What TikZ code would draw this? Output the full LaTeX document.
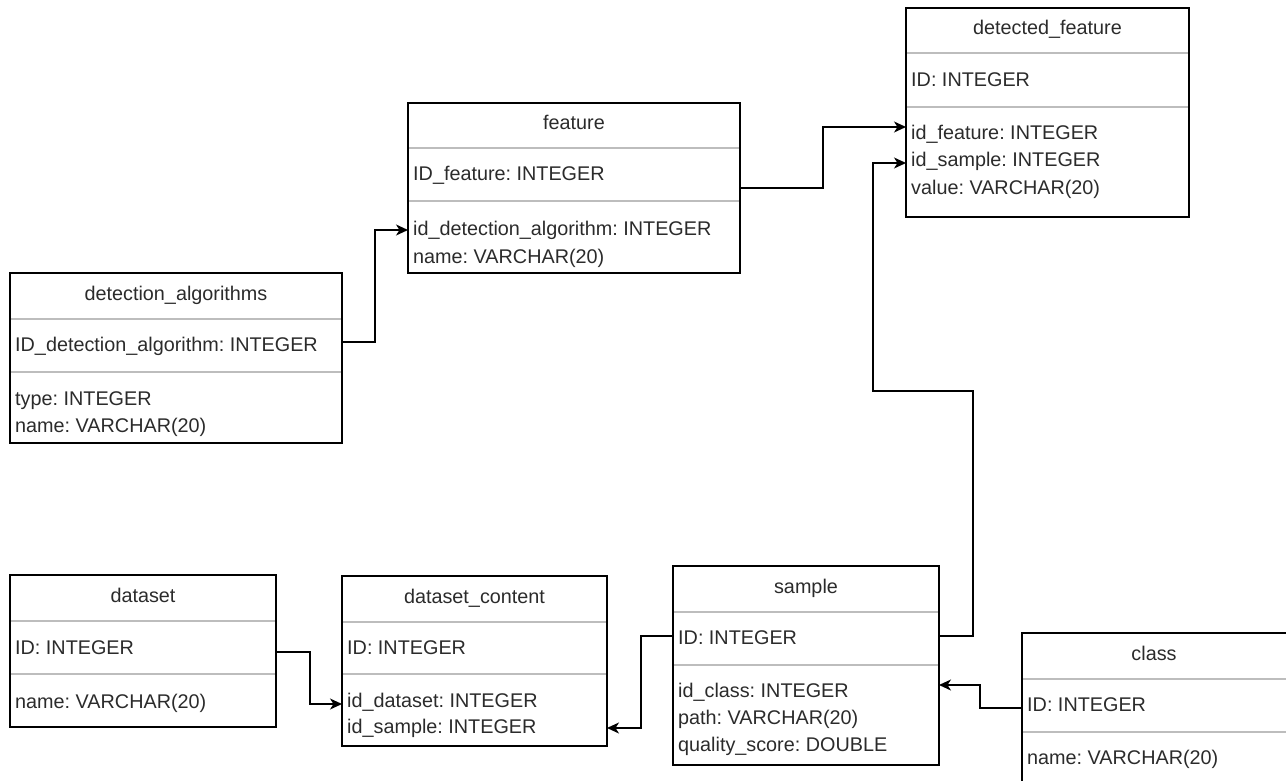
\documentclass[tikz,border=0pt]{standalone}
\usepackage{fontspec}
\setmainfont{Liberation Sans}
\usetikzlibrary{arrows.meta,calc}
\definecolor{txt}{HTML}{2B2B2B}
\definecolor{divc}{HTML}{BDBDBD}
\newcommand{\fs}{\fontsize{19.8}{24}\selectfont\frenchspacing}
\tikzset{
  tblshape/.style={inner sep=0pt, outer sep=0pt, anchor=north west},
  border/.style={draw=black, line width=1.3pt},
  divline/.style={draw=divc, line width=1.2pt},
  ttl/.style={font=\fs, text=txt, anchor=base, inner sep=0pt},
  fld/.style={font=\fs, text=txt, anchor=base west, inner sep=0pt},
  conn/.style={draw=black, line width=1.5pt, -{Stealth[length=12pt,width=11pt,inset=3.5pt]}},
}
% name, x, y, w, h, d1, d2
\newcommand{\ertable}[7]{%
  \node[tblshape, minimum width=#4pt, minimum height=#5pt] (#1) at (#2,#3) {};
  \draw[divline] ([yshift=-#6pt]#1.north west) -- ([yshift=-#6pt]#1.north east);
  \draw[divline] ([yshift=-#7pt]#1.north west) -- ([yshift=-#7pt]#1.north east);
  \draw[border] (#1.north west) rectangle (#1.south east);
}
\begin{document}
\begin{tikzpicture}[x=1pt,y=-1pt]
\useasboundingbox (0,0) rectangle (1286,781);
\clip (0,0) rectangle (1286,781);

% detected_feature
\ertable{df}{906}{8}{283}{209}{45}{99}
\node[ttl] (df-t) at ($(df.north)+(0,27)$) {detected\_feature};
\node[fld] (df-id) at ($(df.north west)+(5,79)$) {ID: INTEGER};
\node[fld] (df-a1) at ($(df.north west)+(5,132)$) {id\_feature: INTEGER};
\node[fld] (df-a2) at ($(df.north west)+(5,159)$) {id\_sample: INTEGER};
\node[fld] (df-a3) at ($(df.north west)+(5,186)$) {value: VARCHAR(20)};

% feature
\ertable{ft}{408}{103}{332}{170}{45}{98}
\node[ttl] (ft-t) at ($(ft.north)+(0,27)$) {feature};
\node[fld] (ft-id) at ($(ft.north west)+(5,78)$) {ID\_feature: INTEGER};
\node[fld] (ft-a1) at ($(ft.north west)+(5,133)$) {id\_detection\_algorithm: INTEGER};
\node[fld] (ft-a2) at ($(ft.north west)+(5,160)$) {name: VARCHAR(20)};

% detection_algorithms
\ertable{da}{10}{273}{332}{170}{46}{99}
\node[ttl] (da-t) at ($(da.north)+(0,27)$) {detection\_algorithms};
\node[fld] (da-id) at ($(da.north west)+(5,78)$) {ID\_detection\_algorithm: INTEGER};
\node[fld] (da-a1) at ($(da.north west)+(5,132)$) {type: INTEGER};
\node[fld] (da-a2) at ($(da.north west)+(5,159)$) {name: VARCHAR(20)};

% dataset
\ertable{ds}{10}{575}{266}{152}{46}{99}
\node[ttl] (ds-t) at ($(ds.north)+(0,27)$) {dataset};
\node[fld] (ds-id) at ($(ds.north west)+(5,79)$) {ID: INTEGER};
\node[fld] (ds-a1) at ($(ds.north west)+(5,133)$) {name: VARCHAR(20)};

% dataset_content
\ertable{dc}{342}{576}{265}{170}{46}{98}
\node[ttl] (dc-t) at ($(dc.north)+(0,27)$) {dataset\_content};
\node[fld] (dc-id) at ($(dc.north west)+(5,78)$) {ID: INTEGER};
\node[fld] (dc-a1) at ($(dc.north west)+(5,131)$) {id\_dataset: INTEGER};
\node[fld] (dc-a2) at ($(dc.north west)+(5,157)$) {id\_sample: INTEGER};

% sample
\ertable{sm}{673}{566}{266}{199}{46}{99}
\node[ttl] (sm-t) at ($(sm.north)+(0,27)$) {sample};
\node[fld] (sm-id) at ($(sm.north west)+(5,78)$) {ID: INTEGER};
\node[fld] (sm-a1) at ($(sm.north west)+(5,131)$) {id\_class: INTEGER};
\node[fld] (sm-a2) at ($(sm.north west)+(5,158)$) {path: VARCHAR(20)};
\node[fld] (sm-a3) at ($(sm.north west)+(5,185)$) {quality\_score: DOUBLE};

% class (cut off at the right and bottom)
\ertable{cl}{1022}{633}{268}{160}{46}{99}
\node[ttl] (cl-t) at ($(cl.north west)+(132,27)$) {class};
\node[fld] (cl-id) at ($(cl.north west)+(5,78)$) {ID: INTEGER};
\node[fld] (cl-a1) at ($(cl.north west)+(5,131)$) {name: VARCHAR(20)};

% connectors
\draw[conn] ([yshift=-69pt]da.north east) -- ++(33,0) |- ([yshift=-127pt]ft.north west);
\draw[conn] ([yshift=-85pt]ft.north east) -- ++(83,0) |- ([yshift=-119pt]df.north west);
\draw[conn] ([yshift=-70pt]sm.north east) -- ++(34,0) -- ++(0,-245) -| (873,163) -- ([yshift=-155pt]df.north west);
\draw[conn] ([yshift=-70pt]sm.north west) -- ++(-32,0) |- ([yshift=-152pt]dc.north east);
\draw[conn] ([yshift=-77pt]ds.north east) -- ++(34,0) |- ([yshift=-128pt]dc.north west);
\draw[conn] ([yshift=-75pt]cl.north west) -- ++(-42,0) |- ([yshift=-119pt]sm.north east);
\end{tikzpicture}
\end{document}
